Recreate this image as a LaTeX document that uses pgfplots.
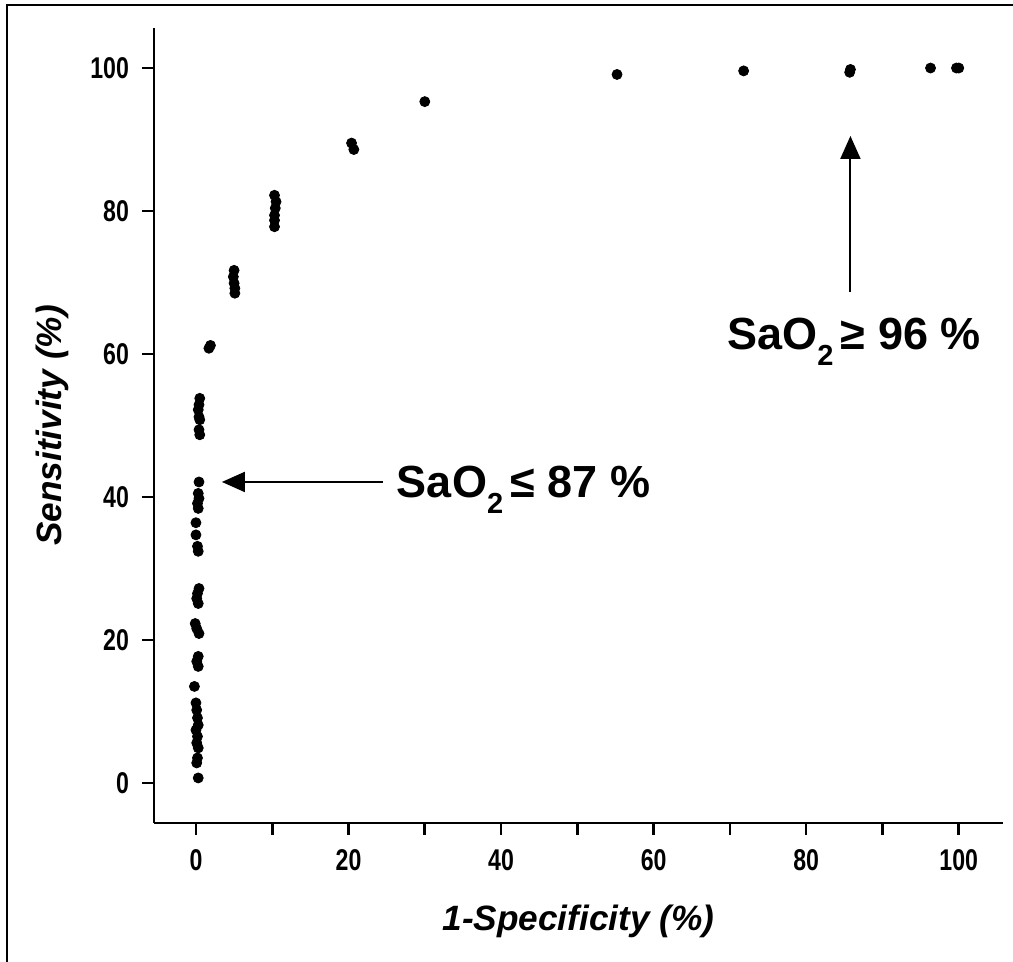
\documentclass[border=0pt]{standalone}
\usepackage{fontspec}
\setmainfont{Liberation Sans}
\newfontfamily\tickfont{Liberation Sans}[FakeStretch=0.77]
\usepackage{pgfplots}
\pgfplotsset{compat=1.18}
\usetikzlibrary{arrows.meta}

\begin{document}
\begin{tikzpicture}
% canvas: 1013 x 962 px at 0.5pt per px
\useasboundingbox (0,0) rectangle (506.5pt,481pt);
\draw[line width=1.3pt] (3.5pt,0) -- (3.5pt,478.5pt) -- (506.5pt,478.5pt);
\begin{axis}[
    at={(77pt,69.5pt)}, anchor=south west,
    width=424.5pt, height=397.5pt, scale only axis,
    xmin=-5.5, xmax=105.8, ymin=-5.6, ymax=105.6,
    axis x line*=bottom, axis y line*=left,
    axis line style={line width=1.3pt},
    tick style={line width=1.3pt, black},
    tick align=outside,
    major tick length=6pt, minor tick length=6pt,
    xtick={0,20,...,100}, minor xtick={10,30,...,90},
    ytick={0,20,...,100},
    /pgf/number format/assume math mode=true,
    ticklabel style={font=\tickfont\bfseries\fontsize{15}{15}\selectfont},
    xticklabel style={yshift=-3.5pt},
    yticklabel style={xshift=-3pt},
    xlabel={1-Specificity (\%)},
    ylabel={Sensitivity (\%)},
    label style={font=\bfseries\itshape\fontsize{17.6}{20}\selectfont},
    xlabel style={at={(axis description cs:0.5,-0.1233)}, anchor=center},
    ylabel style={at={(axis description cs:-0.1201,0.5)}, anchor=center},
]
% ROC points
\addplot[only marks, mark=*, mark size=2.5pt, black] coordinates {
(0.3,0.7) (0.1,2.8) (0.2,3.5) (0.3,4.9) (0.1,5.6) (0.2,6.5) (0.0,7.4)
(0.3,8.1) (0.2,9.1) (0.1,10.2) (0.0,11.2) (-0.2,13.5) (0.3,16.3)
(0.1,17.0) (0.3,17.7) (0.4,20.9) (0.1,21.6) (-0.1,22.3) (0.3,25.1)
(0.1,25.8) (0.2,26.5) (0.4,27.2) (0.3,32.4) (0.2,33.1) (0.0,34.7)
(0.0,36.4) (0.3,38.4) (0.2,39.1) (0.4,39.8) (0.3,40.5) (0.4,42.1)
(0.5,48.7) (0.4,49.4) (0.5,50.8) (0.4,51.2) (0.3,52.2) (0.4,52.9) (0.5,53.8)
(1.7,60.8) (1.9,61.2)
(5.0,71.7) (4.9,70.8) (5.0,69.9) (5.1,69.2) (5.1,68.5)
(10.3,82.2) (10.5,81.3) (10.4,80.4) (10.3,79.4) (10.3,78.7) (10.3,77.8)
(20.4,89.5) (20.7,88.6)
(30.0,95.3) (55.2,99.1) (71.8,99.6) (85.7,99.4) (85.8,99.8)
(96.3,100) (99.7,100) (100,100)
};
% annotations
\draw[line width=1pt, -{Triangle[length=11.5pt,width=10pt]}]
  (axis cs:24.5,42.1) -- (axis cs:3.4,42.1);
\draw[line width=1pt, -{Triangle[length=11.5pt,width=10pt]}]
  (axis cs:85.8,68.7) -- (axis cs:85.8,90.5);
\node[anchor=base west, inner sep=0, font=\bfseries\fontsize{22.5}{24}\selectfont]
  at (axis cs:26.3,39.9) {SaO\raisebox{-0.36em}{\fontsize{14.5}{14.5}\selectfont 2}\,≤ 87 \%};
\node[anchor=base west, inner sep=0, font=\bfseries\fontsize{22.5}{24}\selectfont]
  at (axis cs:69.6,60.6) {SaO\raisebox{-0.36em}{\fontsize{14.5}{14.5}\selectfont 2}\,≥ 96 \%};
\end{axis}
\end{tikzpicture}
\end{document}
